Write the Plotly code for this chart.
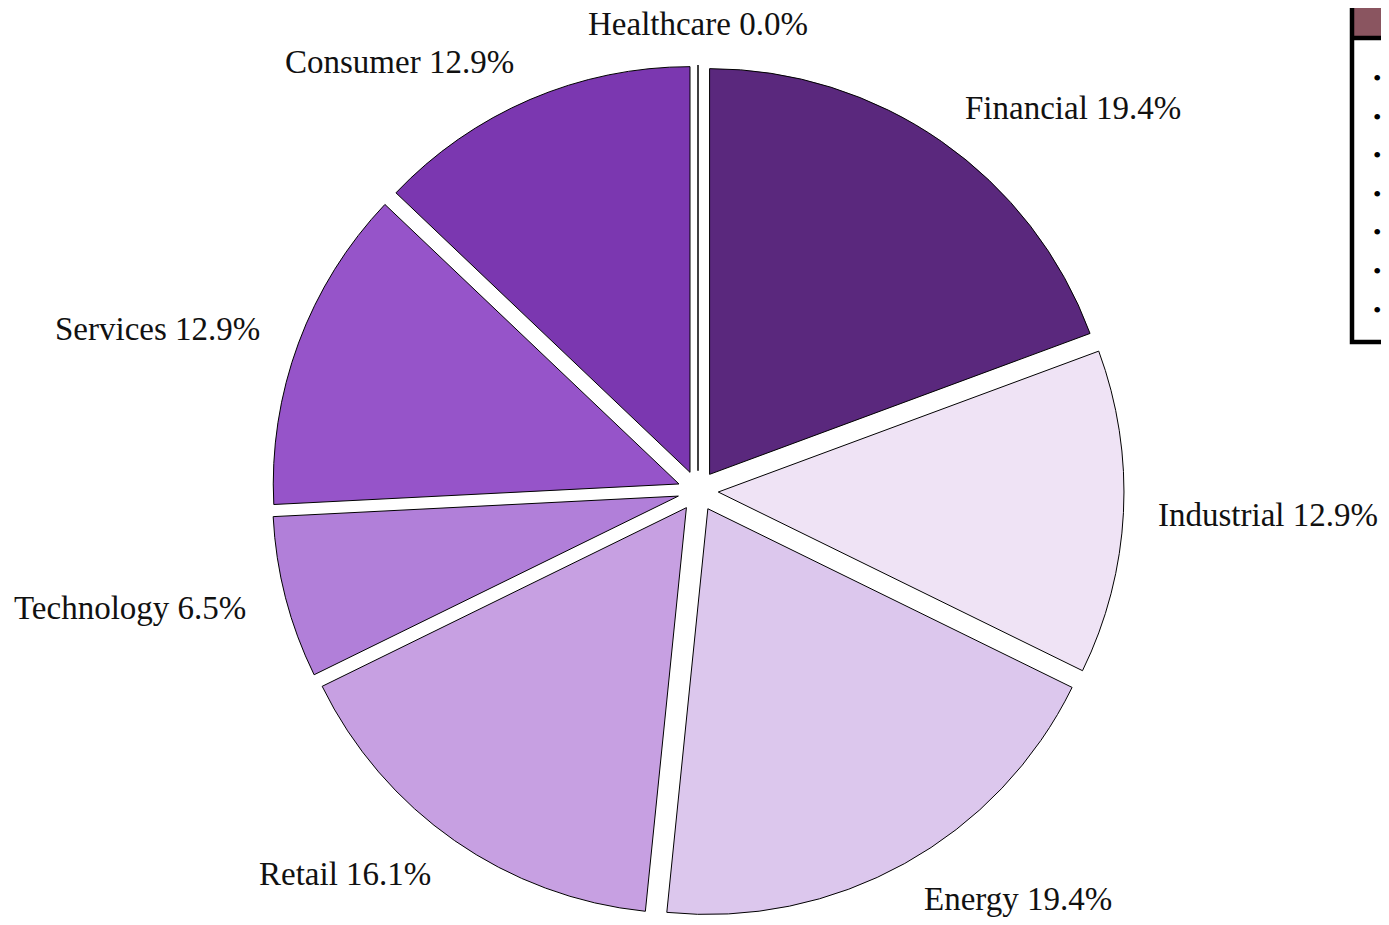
import math
import plotly.graph_objects as go

labels = ["Financial", "Industrial", "Energy", "Retail", "Technology", "Services", "Consumer", "Healthcare"]
counts = [6, 4, 6, 5, 2, 4, 4, 0]
colors = ["#5a287d", "#efe3f5", "#dcc7ed", "#c7a0e2", "#b17fd9", "#9654c9", "#7b37b0", "#9b6fc4"]
n_box_bullets = 7   # the side box is cut off by the page edge: only its bullets are visible

PULL = 0.05
LABEL_DIST = 1.1   # label distance (in radii) measured from the pulled slice centre
LABEL_NUDGE = {"Industrial": -6}   # px, keeps the right-hand label inside the page

# page body has an 8px margin: figure pixel = screen pixel - 8
OFF = 8
W, H = 1373, 909
ML, MR, MT, MB = 7, 0, 57, 0
PW, PH = W - ML - MR, H - MT - MB

def px(x):
    return (x - OFF - ML) / PW

def py(y):
    return (H - MB - (y - OFF)) / PH

FONT = "Liberation Serif, Palatino Linotype, Book Antiqua, Palatino, serif"
FSIZE = 33

fig = go.Figure(go.Pie(
    labels=labels,
    values=counts,
    sort=False,
    direction="clockwise",
    rotation=0,
    pull=PULL,
    automargin=False,
    marker=dict(colors=colors, line=dict(color="black", width=1)),
    textposition="none",
    showlegend=False,
    hoverinfo="label+value+percent",
))

# outside labels, placed along each slice's bisector (same geometry plotly uses for the pie)
radius = min(PW, PH) / 2 / (1 + PULL)
total = sum(counts)
annotations = []
cum = 0
for lab, v in zip(labels, counts):
    mid = 2 * math.pi * (cum + v / 2) / total
    cum += v
    rr = radius * (PULL + LABEL_DIST)
    dx = rr * math.sin(mid)
    dy = rr * math.cos(mid)
    if abs(dx) < 1e-6 * rr:
        xa = "center"
    else:
        xa = "left" if dx > 0 else "right"
    annotations.append(dict(
        x=0.5 + dx / PW, y=0.5 + dy / PH, xref="paper", yref="paper",
        xshift=LABEL_NUDGE.get(lab, 0),
        text=f"{lab} {100 * v / total:.1f}%", showarrow=False,
        xanchor=xa, yanchor="middle", borderpad=0, borderwidth=0,
        font=dict(family=FONT, size=FSIZE, color="#111111"),
    ))

shapes = [
    dict(type="rect", xref="paper", yref="paper", x0=px(1352), x1=px(1460), y0=py(38), y1=py(-20),
         fillcolor="#8a5560", line=dict(width=0), layer="above"),
    dict(type="rect", xref="paper", yref="paper", x0=px(1352), x1=px(1460), y0=py(342), y1=py(-20),
         fillcolor="rgba(0,0,0,0)", line=dict(color="black", width=4.5), layer="above"),
    dict(type="line", xref="paper", yref="paper", x0=px(1352), x1=px(1460), y0=py(38), y1=py(38),
         line=dict(color="black", width=4.5), layer="above"),
]

for i in range(n_box_bullets):
    annotations.append(dict(x=px(1377), y=py(78 + i * 38.6), xref="paper", yref="paper",
                            text="•", showarrow=False, xanchor="center", yanchor="middle",
                            font=dict(family=FONT, size=24, color="black")))

fig.update_layout(
    width=W, height=H,
    margin=dict(l=ML, r=MR, t=MT, b=MB, autoexpand=False),
    paper_bgcolor="white",
    plot_bgcolor="white",
    shapes=shapes,
    annotations=annotations,
)

fig.write_html("out.html")
